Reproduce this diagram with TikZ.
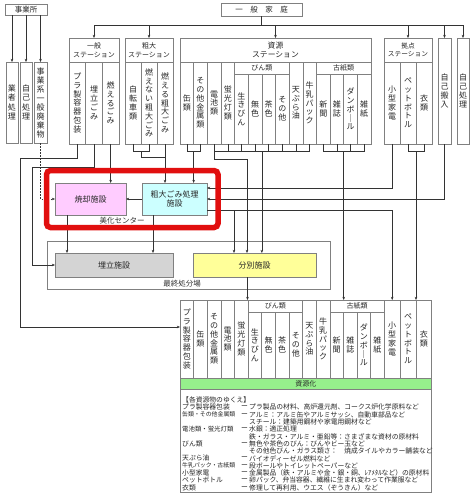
\documentclass[tikz,border=0pt]{standalone}
\usepackage{fontspec}
\setmainfont{Noto Sans CJK JP}
\usetikzlibrary{arrows.meta}
\definecolor{pinkc}{RGB}{255,204,255}
\definecolor{cyanc}{RGB}{204,255,255}
\definecolor{grayc}{RGB}{212,212,212}
\definecolor{yellowc}{RGB}{255,255,153}
\definecolor{greenc}{RGB}{150,240,140}
\definecolor{redc}{RGB}{225,15,15}
\newcommand{\myfs}[2]{\fontsize{#1}{#2}\selectfont}
\tikzset{
  bx/.style={draw=black!50, line width=0.5pt, inner sep=0pt, outer sep=0pt, anchor=north west, align=center, text=black!85},
  cl/.style={bx, font=\myfs{8}{8.8}},
  hd/.style={bx, font=\myfs{7}{9}},
  ln/.style={draw=black!80, line width=0.5pt},
  arr/.style={ln, -{Stealth[length=3.2pt,width=2.6pt]}},
  lst/.style={anchor=west, inner sep=0pt, font=\myfs{6.8}{7}, text=black!85},
  lbl/.style={inner sep=0pt, text=black!80, font=\myfs{7.5}{8}},
}
\newcommand{\mylrow}[4]{%
  \node[lst] (la#1) at (182,#2) {#3};
  \node[lst] (ld#1) at (241,#2) {ー};
  \node[lst] (lt#1) at (249,#2) {#4};}
\begin{document}
\begin{tikzpicture}[x=1pt,y=-1pt]
\useasboundingbox (0,0) rectangle (474,498);
\fill[white] (0,0) rectangle (474,498);

% ---------- top sources
\node[bx, font=\myfs{7.5}{8}, minimum width=42pt, minimum height=11pt] (jg) at (5,4) {事業所};
\node[cl, font=\myfs{8}{9.5}, minimum width=12pt, minimum height=81pt] (j1) at (6,62) {業\\者\\処\\理};
\node[cl, font=\myfs{8}{9.5}, minimum width=12pt, minimum height=81pt] (j2) at (20,62) {自\\己\\処\\理};
\node[cl, font=\myfs{8}{9}, minimum width=13pt, minimum height=81pt] (j3) at (34,62) {事\\業\\系\\一\\般\\廃\\棄\\物};

\node[bx, font=\myfs{7.5}{8}, minimum width=81pt, minimum height=13pt] (home) at (221,3) {一　般　家　庭};

% 一般ステーション
\node[hd, minimum width=50pt, minimum height=24pt] (gH) at (69,38) {一般\\ステーション};
\node[cl, minimum width=16.67pt, minimum height=82pt] (g1) at (69,62) {プ\\ラ\\製\\容\\器\\包\\装};
\node[cl, minimum width=16.67pt, minimum height=82pt] (g2) at (85.67,62) {埋\\立\\ご\\み};
\node[cl, minimum width=16.67pt, minimum height=82pt] (g3) at (102.33,62) {燃\\え\\る\\ご\\み};

% 粗大ステーション
\node[hd, minimum width=48pt, minimum height=24pt] (sH) at (125,38) {粗大\\ステーション};
\node[cl, minimum width=16pt, minimum height=82pt] (s1) at (125,62) {自\\転\\車\\類};
\node[cl, minimum width=16pt, minimum height=82pt] (s2) at (141,62) {燃\\え\\な\\い\\粗\\大\\ご\\み};
\node[cl, minimum width=16pt, minimum height=82pt] (s3) at (157,62) {燃\\え\\る\\粗\\大\\ご\\み};

% 資源ステーション
\node[hd, font=\myfs{7.8}{9.5}, minimum width=191pt, minimum height=24pt] (rH) at (180,38) {資源\\ステーション};
\node[cl, minimum width=13.64pt, minimum height=82pt] (r0) at (180,62) {缶\\類};
\node[cl, minimum width=13.64pt, minimum height=82pt] (r1) at (193.64,62) {そ\\の\\他\\金\\属\\類};
\node[cl, minimum width=13.64pt, minimum height=82pt] (r2) at (207.29,62) {電\\池\\類};
\node[cl, minimum width=13.64pt, minimum height=82pt] (r3) at (220.93,62) {蛍\\光\\灯\\類};
\node[hd, minimum width=54.57pt, minimum height=12pt] (rb) at (234.57,62) {びん類};
\node[cl, minimum width=13.64pt, minimum height=70pt] (r4) at (234.57,74) {生\\き\\び\\ん};
\node[cl, minimum width=13.64pt, minimum height=70pt] (r5) at (248.21,74) {無\\色};
\node[cl, minimum width=13.64pt, minimum height=70pt] (r6) at (261.86,74) {茶\\色};
\node[cl, minimum width=13.64pt, minimum height=70pt] (r7) at (275.5,74) {そ\\の\\他};
\node[cl, minimum width=13.64pt, minimum height=82pt] (r8) at (289.14,62) {天\\ぷ\\ら\\油};
\node[cl, minimum width=13.64pt, minimum height=82pt] (r9) at (302.79,62) {牛\\乳\\パ\\ッ\\ク};
\node[hd, minimum width=54.57pt, minimum height=12pt] (rk) at (316.43,62) {古紙類};
\node[cl, minimum width=13.64pt, minimum height=70pt] (r10) at (316.43,74) {新\\聞};
\node[cl, minimum width=13.64pt, minimum height=70pt] (r11) at (330.07,74) {雑\\誌};
\node[cl, minimum width=13.64pt, minimum height=70pt] (r12) at (343.71,74) {ダ\\ン\\ボ\\｜\\ル};
\node[cl, minimum width=13.64pt, minimum height=70pt] (r13) at (357.36,74) {雑\\紙};

% 拠点ステーション
\node[hd, font=\myfs{6.7}{8.5}, minimum width=48pt, minimum height=24pt] (kH) at (384,38) {拠点\\ステーション};
\node[cl, minimum width=16pt, minimum height=82pt] (k1) at (384,62) {小\\型\\家\\電};
\node[cl, minimum width=16pt, minimum height=82pt] (k2) at (400,62) {ペ\\ッ\\ト\\ボ\\ト\\ル};
\node[cl, minimum width=16pt, minimum height=82pt] (k3) at (416,62) {衣\\類};
\node[cl, minimum width=13pt, minimum height=106pt] (selfin) at (438,38) {自\\己\\搬\\入};
\node[cl, minimum width=12pt, minimum height=106pt] (selfp) at (457,38) {自\\己\\処\\理};

% ---------- facilities
\node[bx, fill=pinkc, font=\myfs{8}{9.5}, minimum width=71pt, minimum height=32pt] (inc) at (55,183) {焼却施設};
\node[bx, fill=cyanc, font=\myfs{8}{9.5}, minimum width=65pt, minimum height=32pt] (sod) at (142,183) {粗大ごみ処理\\施設};
\node[lbl] (bikaL) at (122,221) {美化センター};

\node[bx, minimum width=283pt, minimum height=48pt] (last) at (47,241) {};
\node[bx, fill=grayc, font=\myfs{8}{9}, minimum width=118pt, minimum height=24pt] (uf) at (55,253) {埋立施設};
\node[bx, fill=yellowc, font=\myfs{8}{9}, minimum width=123pt, minimum height=24pt] (sep) at (193,253) {分別施設};
\node[lbl] (lastL) at (182,284) {最終処分場};

% ---------- bottom table
\node[cl, minimum width=13.62pt, minimum height=78pt] (b0) at (180,300) {プ\\ラ\\製\\容\\器\\包\\装};
\node[cl, minimum width=13.62pt, minimum height=78pt] (b1) at (193.62,300) {缶\\類};
\node[cl, minimum width=13.62pt, minimum height=78pt] (b2) at (207.24,300) {そ\\の\\他\\金\\属\\類};
\node[cl, minimum width=13.62pt, minimum height=78pt] (b3) at (220.86,300) {電\\池\\類};
\node[cl, minimum width=13.62pt, minimum height=78pt] (b4) at (234.48,300) {蛍\\光\\灯\\類};
\node[hd, minimum width=54.48pt, minimum height=12pt] (bb) at (248.1,300) {びん類};
\node[cl, minimum width=13.62pt, minimum height=66pt] (b5) at (248.1,312) {生\\き\\び\\ん};
\node[cl, minimum width=13.62pt, minimum height=66pt] (b6) at (261.72,312) {無\\色};
\node[cl, minimum width=13.62pt, minimum height=66pt] (b7) at (275.34,312) {茶\\色};
\node[cl, minimum width=13.62pt, minimum height=66pt] (b8) at (288.96,312) {そ\\の\\他};
\node[cl, minimum width=13.62pt, minimum height=78pt] (b9) at (302.58,300) {天\\ぷ\\ら\\油};
\node[cl, minimum width=13.62pt, minimum height=78pt] (b10) at (316.2,300) {牛\\乳\\パ\\ッ\\ク};
\node[hd, minimum width=54.48pt, minimum height=12pt] (bk) at (329.82,300) {古紙類};
\node[cl, minimum width=13.62pt, minimum height=66pt] (b11) at (329.82,312) {新\\聞};
\node[cl, minimum width=13.62pt, minimum height=66pt] (b12) at (343.44,312) {雑\\誌};
\node[cl, minimum width=13.62pt, minimum height=66pt] (b13) at (357.06,312) {ダ\\ン\\ボ\\｜\\ル};
\node[cl, minimum width=13.62pt, minimum height=66pt] (b14) at (370.68,312) {雑\\紙};
\node[cl, minimum width=15.8pt, minimum height=78pt] (b15) at (384.3,300) {小\\型\\家\\電};
\node[cl, minimum width=15.8pt, minimum height=78pt] (b16) at (400.1,300) {ペ\\ッ\\ト\\ボ\\ト\\ル};
\node[cl, minimum width=15.8pt, minimum height=78pt] (b17) at (415.9,300) {衣\\類};
\node[bx, fill=greenc, font=\myfs{7}{8}, minimum width=251.7pt, minimum height=11pt] (shigen) at (180,378) {資源化};
\node[bx, minimum width=251.7pt, minimum height=103pt] (listbox) at (180,389) {};

% ---------- list
\node[lst] (l0) at (182,400) {【各資源物のゆくえ】};
\mylrow{1}{407.3}{プラ製容器包装}{プラ製品の材料、高炉還元剤、コークス炉化学原料など}
\mylrow{2}{414.6}{\myfs{5.9}{6}缶類・その他金属類}{アルミ：アルミ缶やアルミサッシ、自動車部品など}
\node[lst] (lc3) at (249,421.9) {スチール：建築用鋼材や家電用鋼材など};
\mylrow{4}{429.2}{\myfs{6.4}{6.5}電池類・蛍光灯類}{水銀：適正処理}
\node[lst] (lc5) at (249,436.5) {鉄・ガラス・アルミ・亜鉛等：さまざまな資材の原材料};
\mylrow{6}{443.8}{びん類}{無色や茶色のびん：びんやビー玉など}
\node[lst] (lc7) at (249,451.1) {その他色びん・ガラス類さ：　焼成タイルやカラー舗装など};
\mylrow{8}{458.4}{天ぷら油}{バイオディーゼル燃料など}
\mylrow{9}{465.7}{\myfs{5.9}{6}牛乳パック・古紙類}{段ボールやトイレットペーパーなど}
\mylrow{10}{473}{小型家電}{金属製品（鉄・アルミや金・銀・銅、ﾚｱﾒﾀﾙなど）の原材料}
\mylrow{11}{480.3}{ペットボトル}{卵パック、弁当容器、繊維に生まれ変わって作業服など}
\mylrow{12}{487.6}{衣類}{修理して再利用、ウエス（ぞうきん）など}

% ---------- connectors
\coordinate (busL) at (94,25);
\coordinate (y151) at (0,151);
\coordinate (y157) at (0,157);
\draw[arr] (j1.north |- jg.south) -- (j1.north);
\draw[arr] (j2.north |- jg.south) -- (j2.north);
\draw[arr] (j3.north |- jg.south) -- (j3.north);
\draw[ln] (busL) -- (selfp.north |- busL);
\draw[ln] (home.south) -- (home.south |- busL);
\foreach \n in {gH,sH,rH,kH,selfin,selfp} \draw[arr] (\n.north |- busL) -- (\n.north);

% 一般
\coordinate (p1) at (20,158);
\coordinate (p2) at (32,167);
\draw[arr] (g1.south) |- (p1) |- ([yshift=12pt]b0.west);
\draw[arr] (g2.south) |- (p2) |- (uf.west);
\draw[arr] (g3.south) -- (g3.south |- inc.north);
\draw[arr, dash pattern=on 1.5pt off 1.5pt] (j3.south) |- (inc.west);

% 粗大
\draw[ln] (s1.south) |- (s2.south |- y151) -- (s2.south);
\draw[ln] (s2.south west |- y151) |- (s3.south |- y157);
\draw[arr] (s3.south) -- (s3.south |- sod.north);

% 資源
\draw[ln] (r0.south) |- (r1.south |- y151) -- (r1.south);
\draw[arr] (r1.south west |- y151) -- (r1.south west |- sod.north);
\draw[ln] (r2.south) |- (r9.south |- y151) -- (r9.south);
\foreach \n in {r3,r4,r5,r6,r7,r8} \draw[ln] (\n.south) -- (\n.south |- y151);
\draw[arr] (r6.south west |- y151) -- (r6.south west |- sep.north);
\coordinate (c247) at (247,159);
\draw[arr] (r2.south |- y151) |- (c247) -- (c247 |- sep.north);
\draw[ln] (r10.south) |- (r13.south |- y151) -- (r13.south);
\foreach \n in {r11,r12} \draw[ln] (\n.south) -- (\n.south |- y151);
\draw[arr] (r12.south west |- y151) -- (r12.south west |- bk.north);

% 拠点
\draw[arr] (k1.south) |- ([yshift=11pt]sod.east);
\draw[ln] (k2.south) |- (k3.south |- y151) -- (k3.south);
\draw[arr] (k3.south west |- y151) -- (k3.south west |- b17.north);
\draw[arr] (selfin.south) |- (sod.east);

% facility flows
\coordinate (o210) at ([yshift=-11pt]sod.east);
\draw[arr] (o210) -| (b15.north);
\coordinate (br234) at (234,210);
\draw[arr] (br234) -- (br234 |- sep.north);
\draw[arr] (sod.west) -- (inc.east);
\coordinate (incS) at ([xshift=-23.5pt]inc.south);
\draw[arr] (incS) -- (incS |- uf.north);
\coordinate (sodS) at ([xshift=-21.5pt]sod.south);
\draw[arr] (sodS) -- (sodS |- uf.north);
\coordinate (sepS) at ([xshift=-7pt]sep.south);
\draw[arr] (sepS) -- (sepS |- bb.north);

% red highlight
\node[draw=redc, line width=5.5pt, rounded corners=4pt, inner sep=0pt, outer sep=0pt, anchor=north west, minimum width=171.5pt, minimum height=57pt] (bika) at (46.5,170.5) {};
\end{tikzpicture}
\end{document}
